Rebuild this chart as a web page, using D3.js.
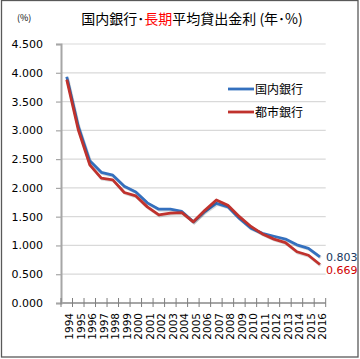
<!DOCTYPE html>
<html>
<head>
<meta charset="utf-8">
<script src="https://cdn.jsdelivr.net/npm/d3@7"></script>
<style>
  body { margin: 0; background: white; }
  text { font-family: Verdana, "DejaVu Sans", sans-serif; }
  .jp { font-family: "Noto Sans CJK JP", sans-serif; }
</style>
</head>
<body>
<div id="container"></div>
<script>
let w = 360;
let h = 359;

// data
let years = ["1994","1995","1996","1997","1998","1999","2000","2001","2002","2003","2004","2005",
  "2006","2007","2008","2009","2010","2011","2012","2013","2014","2015","2016"];
let domestic = [3.93, 3.07, 2.47, 2.27, 2.22, 2.03, 1.93, 1.74, 1.63, 1.63, 1.59, 1.41,
  1.59, 1.73, 1.67, 1.47, 1.30, 1.21, 1.16, 1.11, 1.01, 0.95, 0.803];
let city = [3.88, 3.01, 2.40, 2.17, 2.14, 1.92, 1.86, 1.67, 1.53, 1.56, 1.57, 1.41,
  1.61, 1.79, 1.70, 1.50, 1.33, 1.20, 1.11, 1.05, 0.89, 0.83, 0.669];
let yTicks = [0, 0.5, 1, 1.5, 2, 2.5, 3, 3.5, 4, 4.5];
let seriesNames = ["国内銀行", "都市銀行"];

let blue = "#3470be";
let red = "#c0322d";

let viz = d3.select("#container")
  .append("svg")
    .attr("width", w)
    .attr("height", h)
;

// outer frame
viz.append("rect")
  .attr("x", 1.5).attr("y", 0.5)
  .attr("width", 356.5).attr("height", 356.5)
  .attr("fill", "white")
  .attr("stroke", "#595959")
  .attr("stroke-width", 1.3)
;

let plotLeft = 61, plotRight = 325.7, plotTop = 44, plotBottom = 303;

let xScale = d3.scaleBand().domain(years).range([plotLeft, plotRight]);
let yScale = d3.scaleLinear().domain([0, 4.5]).range([plotBottom, plotTop]);

// gridlines
viz.selectAll(".grid").data(yTicks.filter(d => d > 0)).enter()
  .append("line")
    .attr("x1", plotLeft).attr("x2", plotRight)
    .attr("y1", d => yScale(d)).attr("y2", d => yScale(d))
    .attr("stroke", "#d9d9d9")
    .attr("stroke-width", 1.2)
;

// y axis
let yAxis = viz.append("g")
  .attr("transform", "translate(" + plotLeft + ",0)")
  .call(d3.axisLeft(yScale).tickValues(yTicks).tickSize(5).tickPadding(13)
    .tickFormat(d3.format(".3f")));
yAxis.select(".domain").attr("stroke", "#a6a6a6").attr("stroke-width", 2);
yAxis.selectAll(".tick line").attr("stroke", "#a6a6a6").attr("stroke-width", 1.2);
yAxis.selectAll(".tick text")
  .attr("fill", "#000")
  .style("font-size", "11px")
  .style("font-family", "Verdana, 'DejaVu Sans', sans-serif");

// x axis
let xAxisG = viz.append("g");
xAxisG.append("line")
  .attr("x1", plotLeft).attr("x2", plotRight)
  .attr("y1", plotBottom).attr("y2", plotBottom)
  .attr("stroke", "#a6a6a6").attr("stroke-width", 2);
let boundaries = years.map(d => xScale(d)).concat([plotRight]);
xAxisG.selectAll(".xt").data(boundaries).enter()
  .append("line")
    .attr("x1", d => d).attr("x2", d => d)
    .attr("y1", plotBottom - 5).attr("y2", plotBottom + 4)
    .attr("stroke", "#7f7f7f").attr("stroke-width", 1);
xAxisG.selectAll(".xl").data(years).enter()
  .append("text")
    .text(d => d)
    .attr("transform", d => "translate(" + (xScale(d) + xScale.bandwidth() / 2 + 6.5) + "," + 313 + ") rotate(-90)")
    .attr("text-anchor", "end")
    .style("font-size", "10.5px")
    .attr("fill", "#000");

// lines
let line = d3.line()
  .x((d, i) => xScale(years[i]) + xScale.bandwidth() / 2)
  .y(d => yScale(d));

[[domestic, blue], [city, red]].forEach(function(s) {
  viz.append("path")
    .attr("d", line(s[0]))
    .attr("fill", "none")
    .attr("stroke", "#000")
    .attr("stroke-opacity", 0.15)
    .attr("stroke-width", 3)
    .attr("transform", "translate(0.8,1)");
  viz.append("path")
    .attr("d", line(s[0]))
    .attr("fill", "none")
    .attr("stroke", s[1])
    .attr("stroke-width", 2.8)
    .attr("stroke-linejoin", "round");
});

// end labels
viz.append("text")
  .text(d3.format(".3f")(domestic[domestic.length - 1]))
  .attr("x", 326).attr("y", 261)
  .style("font-size", "11px")
  .attr("fill", "#17375e");
viz.append("text")
  .text(d3.format(".3f")(city[city.length - 1]))
  .attr("x", 326).attr("y", 274)
  .style("font-size", "11px")
  .attr("fill", "#d00000");

// legend
let legend = viz.selectAll(".legend").data(seriesNames).enter()
  .append("g")
    .attr("transform", (d, i) => "translate(228," + (89 + i * 23) + ")");
legend.append("line")
  .attr("x1", 0).attr("x2", 26)
  .attr("stroke", (d, i) => i == 0 ? blue : red)
  .attr("stroke-width", 2.8);
legend.append("text")
  .text(d => d)
  .classed("jp", true)
  .attr("x", 27).attr("y", 4.5)
  .style("font-size", "12px")
  .attr("fill", "#000");

// title
let title = viz.append("text")
  .classed("jp", true)
  .attr("x", 192).attr("y", 24)
  .attr("text-anchor", "middle")
  .style("font-size", "14px")
  .attr("fill", "#000");
title.append("tspan").text("国内銀行･");
title.append("tspan").text("長期").attr("fill", "#ff0000");
title.append("tspan").text("平均貸出金利 (年･%)");

viz.append("text")
  .classed("jp", true)
  .text("(%)")
  .attr("x", 17).attr("y", 21)
  .style("font-size", "9px")
  .attr("fill", "#000");
</script>
</body>
</html>
